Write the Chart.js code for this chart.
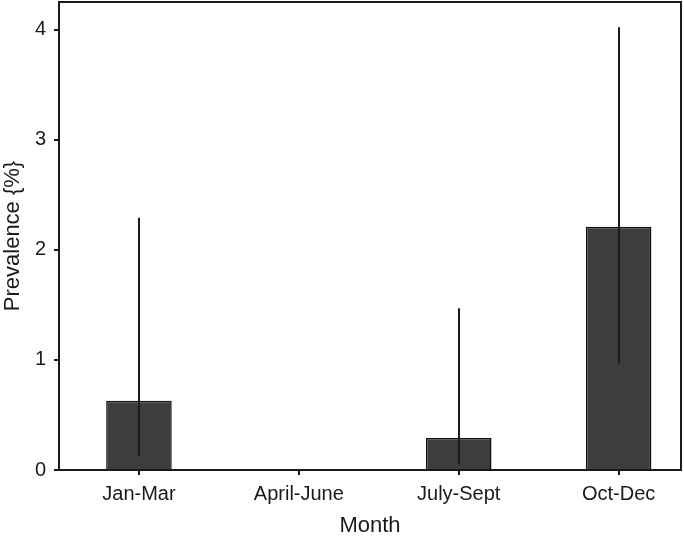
<!DOCTYPE html>
<html>
<head>
  <meta charset="utf-8" />
  <style>
    html, body { margin: 0; padding: 0; background: #fff; }
    .wrap { width: 684px; height: 539px; }
  </style>
</head>
<body>
  <div class="wrap"><canvas id="prevChart" width="684" height="539"></canvas></div>

  <script src="https://cdn.jsdelivr.net/npm/chart.js"></script>
  <script>
    // Data
    const categories = ["Jan-Mar", "April-June", "July-Sept", "Oct-Dec"];
    const positions = [1, 2, 3, 4];
    const prevalence = [0.63, 0, 0.29, 2.21];
    const lowerCI = [0.13, null, 0.05, 0.97];
    const upperCI = [2.29, null, 1.47, 4.02];
    const yTicks = [0, 1, 2, 3, 4];

    const ink = "#1a1a1a";
    const font = "'Liberation Sans', Arial, Helvetica, sans-serif";

    // box round the plot + error bars
    const errorBars = {
      id: "errorBars",
      afterDatasetsDraw(chart) {
        const { ctx, scales: { x, y } } = chart;
        ctx.save();
        ctx.strokeStyle = ink;
        ctx.lineWidth = 2;
        positions.forEach((p, i) => {
          if (lowerCI[i] == null) return;
          const px = Math.round(x.getPixelForValue(p));
          ctx.beginPath();
          ctx.moveTo(px, y.getPixelForValue(lowerCI[i]));
          ctx.lineTo(px, y.getPixelForValue(upperCI[i]));
          ctx.stroke();
        });
        ctx.restore();
      },
      afterDraw(chart) {
        const { ctx, chartArea: a } = chart;
        ctx.save();
        ctx.strokeStyle = ink;
        ctx.lineWidth = 2;
        ctx.strokeRect(a.left, a.top, a.right - a.left, a.bottom - a.top);
        ctx.restore();
      }
    };

    new Chart(document.getElementById("prevChart"), {
      type: "bar",
      data: {
        datasets: [{
          data: positions.map((p, i) => ({ x: p, y: prevalence[i] })),
          backgroundColor: "#3d3d3d",
          borderColor: "#111",
          borderWidth: 1.5,
          barPercentage: 0.41,
          categoryPercentage: 1
        }]
      },
      options: {
        responsive: false,
        animation: false,
        layout: { padding: { top: 2, right: 3, left: 0, bottom: 0 } },
        plugins: { legend: { display: false }, tooltip: { enabled: false } },
        scales: {
          x: {
            type: "linear",
            min: 0.5,
            max: 4.39,
            offset: false,
            afterBuildTicks: s => { s.ticks = positions.map(v => ({ value: v })); },
            afterFit: s => { s.height = 69; s.paddingLeft = 0; s.paddingRight = 0; },
            border: { display: false },
            grid: { offset: false, drawOnChartArea: false, drawTicks: true, tickLength: 5, lineWidth: 2, color: ink },
            ticks: {
              padding: 7,
              color: ink,
              font: { family: font, size: 20 },
              callback: v => categories[positions.indexOf(v)]
            },
            title: { display: true, text: "Month", color: ink, padding: 0, font: { family: font, size: 22 } }
          },
          y: {
            min: 0,
            max: 4.25,
            afterBuildTicks: s => { s.ticks = yTicks.map(v => ({ value: v })); },
            afterFit: s => { s.width = 59; s.paddingTop = 0; s.paddingBottom = 0; },
            border: { display: false },
            grid: { drawOnChartArea: false, drawTicks: true, tickLength: 5, lineWidth: 2, color: ink },
            ticks: { padding: 8, color: ink, font: { family: font, size: 20 } },
            title: { display: true, text: "Prevalence {%}", color: ink, padding: 0, font: { family: font, size: 22 } }
          }
        }
      },
      plugins: [errorBars]
    });
  </script>
</body>
</html>
